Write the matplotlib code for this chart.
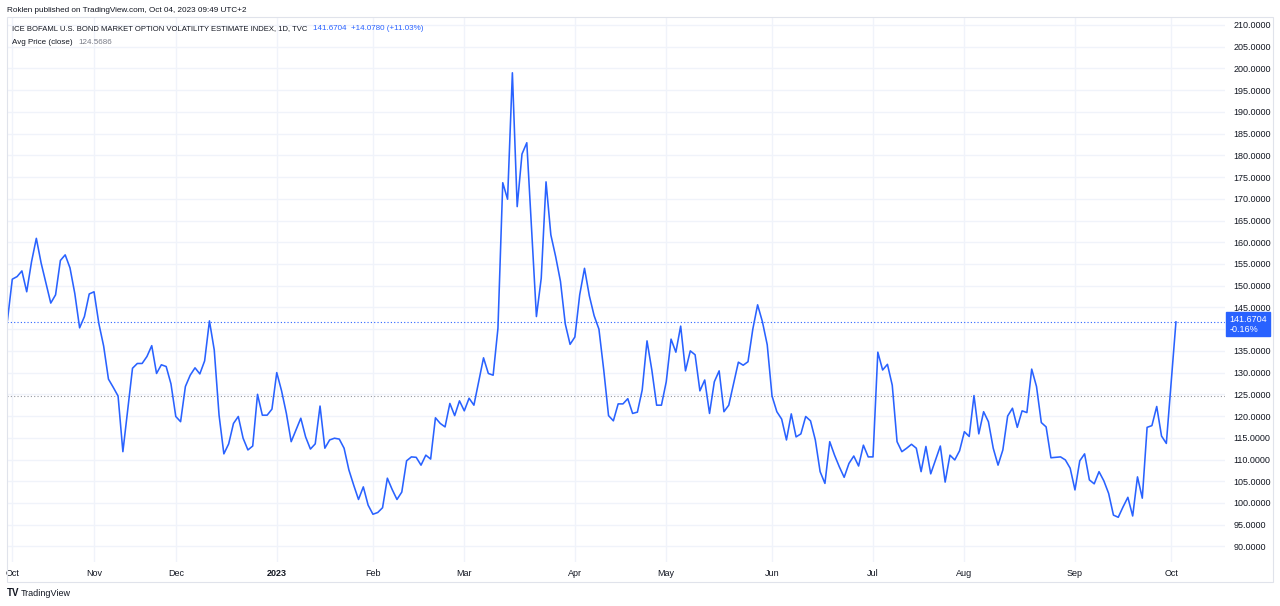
import numpy as np
import matplotlib.pyplot as plt
from matplotlib.ticker import FixedLocator, FuncFormatter
from matplotlib.patches import Rectangle

# MOVE index daily closes, one per trading bar (Oct 2022 - Oct 3 2023)
values = [
    142.1, 151.5, 152.1, 153.4, 148.6, 155.5, 160.9, 155.2, 150.6, 146.0,
    147.9, 155.8, 157.1, 154.1, 148.2, 140.3, 142.9, 148.1, 148.6, 141.3,
    136.1, 128.5, 126.6, 124.6, 111.8, 121.4, 131.0, 132.1, 132.1, 133.7,
    136.2, 129.8, 131.8, 131.4, 127.4, 119.9, 118.7, 126.8, 129.4, 131.1,
    129.7, 132.7, 141.9, 135.2, 120.2, 111.3, 113.6, 118.3, 119.9, 114.9,
    112.2, 113.1, 125.0, 120.2, 120.2, 121.6, 130.0, 125.8, 120.6, 114.1,
    116.8, 119.5, 115.2, 112.4, 113.6, 122.3, 112.6, 114.5, 114.9, 114.7,
    112.6, 107.6, 104.1, 100.8, 103.7, 99.5, 97.4, 97.8, 98.9, 105.7,
    103.1, 100.8, 102.5, 109.7, 110.6, 110.5, 108.7, 111.0, 110.1, 119.6,
    118.3, 117.5, 122.9, 120.1, 123.5, 121.2, 124.1, 122.5, 127.9, 133.4,
    129.8, 129.4, 140.2, 173.7, 169.9, 199.0, 168.2, 180.3, 182.9, 162.8,
    142.9, 151.7, 173.9, 161.7, 156.7, 151.0, 141.2, 136.5, 138.2, 147.9,
    154.0, 147.7, 143.1, 140.0, 130.6, 120.1, 118.9, 122.8, 122.8, 124.0,
    120.6, 120.9, 126.0, 137.3, 130.6, 122.5, 122.5, 127.9, 137.7, 134.7,
    140.7, 130.4, 135.0, 134.1, 125.8, 128.3, 120.6, 127.9, 130.4, 121.0,
    122.5, 127.5, 132.4, 131.7, 132.5, 140.0, 145.6, 141.7, 136.4, 124.6,
    121.0, 119.3, 114.5, 120.5, 115.2, 115.9, 119.9, 118.9, 114.5, 107.2,
    104.5, 114.1, 111.0, 108.3, 105.9, 109.1, 110.8, 108.5, 113.3, 110.6,
    110.6, 134.7, 130.6, 131.9, 127.1, 114.1, 111.8, 112.6, 113.5, 112.6,
    107.2, 113.0, 106.7, 109.9, 113.1, 104.8, 111.0, 109.9, 112.0, 116.4,
    115.3, 124.7, 115.9, 121.0, 118.7, 112.6, 108.7, 112.2, 120.0, 121.8,
    117.4, 121.2, 120.8, 130.8, 126.8, 118.5, 117.5, 110.4, 110.5, 110.6,
    109.9, 108.0, 103.0, 109.7, 111.3, 105.3, 104.4, 107.2, 105.1, 102.2,
    97.2, 96.7, 99.1, 101.3, 97.0, 106.0, 101.1, 117.4, 117.8, 122.2,
    115.4, 113.7, 127.6, 141.6704,
]
last_price = 141.6704
avg_price = 124.5686

month_labels = ["Oct", "Nov", "Dec", "2023", "Feb", "Mar", "Apr", "May",
                "Jun", "Jul", "Aug", "Sep", "Oct"]
month_bars = [1, 18, 35, 56, 76, 95, 118, 137, 159, 180, 199, 222, 242]

W, H = 1280, 606
BLUE = "#2962ff"
TXT = "#131722"
GRID = "#f0f3fa"

plt.rcParams["font.family"] = "Liberation Sans"

fig = plt.figure(figsize=(W / 100, H / 100), dpi=100)
fig.patch.set_facecolor("white")

def fx(px):
    return px / W

def fy(py):
    return 1 - py / H

# pane: x 7..1225, y 17..562 (pixels)
ax = fig.add_axes([fx(7), fy(562), fx(1225 - 7), (562 - 17) / H])
bars = np.arange(len(values))
ax.plot(bars, values, color=BLUE, lw=1.15, solid_joinstyle="round", zorder=3)

ax.set_xlim(-0.1, 253.2)
ax.set_ylim(86.41, 211.84)

# grid
yt = np.arange(90, 211, 5)
ax.yaxis.set_major_locator(FixedLocator(yt))
ax.xaxis.set_major_locator(FixedLocator(month_bars))
ax.grid(True, color=GRID, lw=1.0, zorder=0)
ax.set_axisbelow(True)

ax.yaxis.tick_right()
ax.yaxis.set_major_formatter(FuncFormatter(
    lambda v, p: "" if abs(v - last_price) < 3 else f"{v:.4f}"))
ax.tick_params(axis="y", length=0, pad=6, labelsize=6.5, labelcolor=TXT)
ax.set_xticks(month_bars)
ax.set_xticklabels(month_labels)
ax.tick_params(axis="x", length=0, pad=5, labelsize=6.5, labelcolor=TXT)
for lab in ax.get_xticklabels():
    if lab.get_text() == "2023":
        lab.set_fontweight("bold")
for s in ax.spines.values():
    s.set_visible(False)

# last price and average lines
ax.axhline(last_price, color=BLUE, lw=0.8, ls=(0, (1, 2)), zorder=2)
ax.axhline(avg_price, color="#9598a1", lw=0.8, ls=(0, (1, 2)), zorder=2)

ax.annotate("141.6704\n-0.16%", xy=(1.0, last_price),
            xycoords=ax.get_yaxis_transform(), xytext=(3, 5),
            textcoords="offset points", ha="left", va="top", color="white",
            fontsize=6.5, linespacing=1.1,
            bbox=dict(boxstyle="square,pad=0.3", fc=BLUE, ec=BLUE),
            zorder=5, annotation_clip=False)

# outer frame
fig.patches.append(Rectangle((fx(7), fy(582)), fx(1273 - 7), (582 - 17) / H,
                             transform=fig.transFigure, fill=False,
                             ec="#e0e3eb", lw=0.8))

# header and legend
fig.text(fx(7), fy(10), "Roklen published on TradingView.com, Oct 04, 2023 09:49 UTC+2",
         ha="left", va="center", fontsize=5.9, color=TXT)
t1 = fig.text(fx(12), fy(29),
              "ICE BOFAML U.S. BOND MARKET OPTION VOLATILITY ESTIMATE INDEX, 1D, TVC",
              ha="left", va="center", fontsize=5.5, color=TXT)
ax.annotate("141.6704  +14.0780 (+11.03%)", xy=(1, 0.5), xycoords=t1,
            xytext=(4, 0), textcoords="offset points", ha="left",
            va="center", fontsize=5.8, color=BLUE, annotation_clip=False)
t2 = fig.text(fx(12), fy(42), "Avg Price (close)", ha="left", va="center",
              fontsize=5.8, color=TXT)
ax.annotate("124.5686", xy=(1, 0.5), xycoords=t2, xytext=(4, 0),
            textcoords="offset points", ha="left", va="center", fontsize=5.8,
            color="#787b86", annotation_clip=False)

# footer
fig.text(fx(7), fy(593), "TV", ha="left", va="center", fontsize=7,
         fontweight="heavy", color=TXT)
fig.text(fx(21), fy(593), "TradingView", ha="left", va="center",
         fontsize=6.5, color=TXT)

fig.savefig("out.png", dpi=100, facecolor="white")
